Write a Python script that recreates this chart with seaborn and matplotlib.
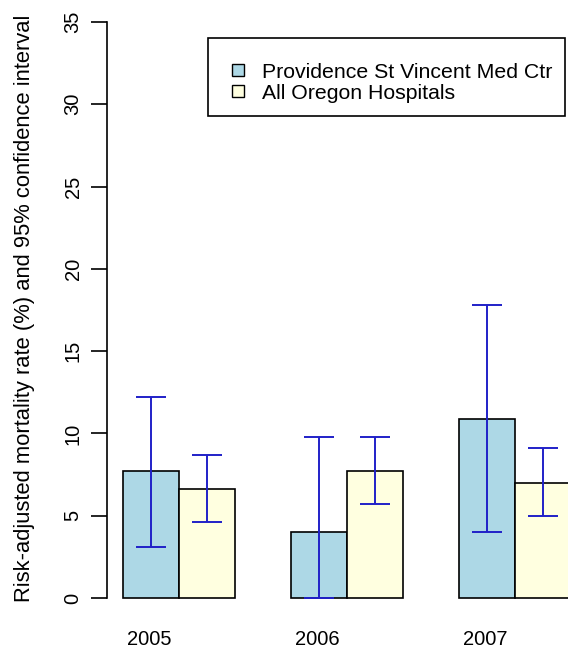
import matplotlib
matplotlib.use("Agg")
import matplotlib.pyplot as plt
from matplotlib.lines import Line2D
from matplotlib.patches import Rectangle
from matplotlib.transforms import ScaledTranslation
import seaborn as sns
import pandas as pd

years = ["2005", "2006", "2007"]
groups = ["Providence St Vincent Med Ctr", "All Oregon Hospitals"]
prov_rate = [7.7, 4.0, 10.9]
prov_lo = [3.1, 0.0, 4.0]
prov_hi = [12.2, 9.8, 17.8]
oregon_rate = [6.6, 7.7, 7.0]
oregon_lo = [4.6, 5.7, 5.0]
oregon_hi = [8.7, 9.8, 9.1]
colors = ["#ADD8E6", "#FFFFE0"]
yticks = [0, 5, 10, 15, 20, 25, 30, 35]

df = pd.DataFrame({
    "year": years * 2,
    "group": [groups[0]] * 3 + [groups[1]] * 3,
    "rate": prov_rate + oregon_rate,
    "lo": prov_lo + oregon_lo,
    "hi": prov_hi + oregon_hi,
})

sns.set_style("white")
plt.rcParams["font.family"] = ["Liberation Sans", "DejaVu Sans"]
plt.rcParams["text.color"] = "black"
plt.rcParams["xtick.color"] = "black"
plt.rcParams["ytick.color"] = "black"
plt.rcParams["axes.labelcolor"] = "black"

W, H = 568, 656
fig = plt.figure(figsize=(W / 100, H / 100), dpi=100)
ax = fig.add_axes([107 / W, 46 / H, 461 / W, 600 / H])

sns.barplot(data=df, x="year", y="rate", hue="group", hue_order=groups,
            palette=colors, width=2 / 3, errorbar=None, saturation=1,
            edgecolor="black", linewidth=1.2, ax=ax, legend=False)

for cont, g in zip(ax.containers, groups):
    sub = df[df["group"] == g].set_index("year").loc[years]
    xs = [b.get_x() + b.get_width() / 2 for b in cont]
    r = sub["rate"].values
    ax.errorbar(xs, r, yerr=[r - sub["lo"].values, sub["hi"].values - r],
                fmt="none", ecolor="#2020C8", elinewidth=1.4,
                capsize=10.8, capthick=1.4, zorder=5)

ppu = 576 / 35
ax.set_ylim(-12 / ppu, 35 + 12 / ppu)
ax.set_xlim(-0.43, 2.314)
ax.set_yticks(yticks)
ax.set_yticklabels([str(t) for t in yticks], rotation=90, va="center")
ax.tick_params(axis="y", length=11.5, width=1.2, pad=6, labelsize=14.5,
               left=True, color="black", labelcolor="black")
ax.tick_params(axis="x", length=0, pad=14.5, labelsize=14.5, labelcolor="black")
for lbl in ax.get_xticklabels():
    lbl.set_transform(lbl.get_transform() + ScaledTranslation(-0.30, 0, fig.dpi_scale_trans))

for s in ["top", "right", "bottom"]:
    ax.spines[s].set_visible(False)
ax.spines["left"].set_bounds(0, 35)
ax.spines["left"].set_linewidth(1.2)
ax.spines["left"].set_color("black")

ax.set_xlabel("")
ax.set_ylabel("Risk-adjusted mortality rate (%) and 95% confidence interval",
              fontsize=15.8, color="black")
ax.yaxis.label.set_va("center")
ax.yaxis.set_label_coords((25 - 107) / 461, (610 - 308.5) / 600)

# legend frame (R-style box)
fig.patches.append(Rectangle((208 / W, 1 - 116 / H), (565 - 208) / W, (116 - 38) / H,
                             transform=fig.transFigure, facecolor="white",
                             edgecolor="black", linewidth=1.2, zorder=10))

handles = [Line2D([], [], marker="s", linestyle="", markerfacecolor=c,
                  markeredgecolor="black", markersize=8, markeredgewidth=1)
           for c in colors]
leg = fig.legend(handles, groups, loc="upper left",
                 bbox_to_anchor=(228.5 / W, 1 - 62.5 / H),
                 bbox_transform=fig.transFigure, fontsize=15.3,
                 frameon=False, borderpad=0, handlelength=0.9,
                 handletextpad=0.68, labelspacing=0.1, borderaxespad=0)
leg.set_zorder(11)
for t in leg.get_texts():
    t.set_color("black")

fig.savefig("out.png", dpi=100)
